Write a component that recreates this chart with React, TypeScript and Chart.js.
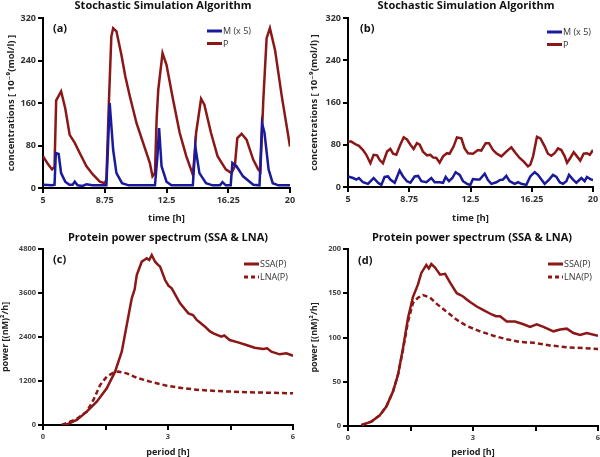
import React, { useEffect, useRef } from "react";
import { Chart, registerables } from "chart.js";
Chart.register(...registerables);

const FONT = "'Open Sans', 'DejaVu Sans', sans-serif";
const RED = "#8b1717";
const BLUE = "#1a1a9c";

// ---------- Panel (a): SSA time series ----------
const A_P_TIME = [5.0, 5.3, 5.55, 5.7, 5.8, 6.1, 6.35, 6.62, 6.93, 7.23, 7.64, 8.04, 8.45, 8.75, 8.85, 9.0, 9.15, 9.26, 9.46, 9.76, 10.0, 10.27, 10.68, 11.08, 11.49, 11.65, 11.8, 11.9, 12.0, 12.26, 12.5, 12.9, 13.3, 13.7, 14.1, 14.2, 14.3, 14.6, 14.8, 15.2, 15.6, 16.1, 16.45, 16.65, 16.8, 17.06, 17.36, 17.77, 18.07, 18.2, 18.38, 18.58, 18.78, 19.09, 19.5, 19.8, 20.0];
const A_P_VALUE = [60, 45, 35, 40, 165, 182, 150, 100, 85, 66, 41, 25, 12, 9, 16, 160, 285, 301, 295, 251, 210, 173, 122, 85, 47, 22, 28, 130, 185, 254, 232, 166, 104, 60, 25, 60, 104, 168, 157, 104, 60, 35, 28, 41, 94, 102, 91, 53, 35, 31, 166, 282, 301, 260, 173, 116, 78];
const A_M_TIME = [5.0, 5.55, 5.7, 5.78, 5.95, 6.1, 6.35, 6.6, 6.8, 6.93, 7.1, 7.4, 7.64, 8.0, 8.85, 8.95, 9.05, 9.26, 9.46, 9.8, 10.2, 11.8, 11.95, 12.05, 12.2, 12.5, 12.8, 14.1, 14.25, 14.5, 14.9, 15.3, 15.75, 15.9, 16.1, 16.4, 16.5, 16.75, 17.15, 17.77, 18.15, 18.3, 18.45, 18.7, 18.95, 19.3, 20.0];
const A_M_VALUE = [6, 5, 6, 66, 64, 28, 12, 6, 6, 12, 5, 4, 7, 5, 5, 80, 160, 72, 28, 9, 5, 5, 60, 113, 41, 12, 5, 5, 78, 28, 9, 5, 5, 11, 5, 5, 47, 41, 22, 6, 5, 122, 104, 35, 9, 5, 5];

// ---------- Panel (b): SSA time series ----------
const B_P_TIME = [5.0, 5.2, 5.51, 5.67, 5.92, 6.12, 6.37, 6.57, 6.78, 6.94, 7.14, 7.39, 7.59, 7.76, 7.96, 8.16, 8.41, 8.61, 8.82, 9.02, 9.22, 9.39, 9.59, 9.84, 10.04, 10.2, 10.41, 10.61, 10.82, 11.06, 11.22, 11.47, 11.67, 11.94, 12.14, 12.35, 12.65, 12.96, 13.16, 13.43, 13.63, 13.88, 14.08, 14.39, 14.69, 15.0, 15.27, 15.51, 15.76, 16.02, 16.16, 16.33, 16.57, 16.78, 17.04, 17.24, 17.45, 17.65, 17.86, 18.06, 18.27, 18.41, 18.61, 18.82, 19.02, 19.22, 19.43, 19.63, 19.8, 20.0];
const B_P_VALUE = [86, 86, 80, 78, 70, 61, 45, 61, 60, 51, 45, 67, 72, 63, 61, 77, 94, 90, 80, 72, 83, 80, 67, 60, 61, 56, 55, 46, 58, 64, 63, 77, 94, 92, 73, 64, 63, 70, 69, 83, 83, 70, 64, 58, 67, 75, 64, 55, 48, 39, 42, 58, 95, 92, 77, 63, 59, 64, 73, 70, 58, 46, 55, 66, 58, 50, 63, 64, 61, 70];
const B_M_TIME = [5.0, 5.31, 5.51, 5.67, 5.92, 6.22, 6.57, 6.84, 7.04, 7.24, 7.45, 7.59, 7.86, 8.16, 8.37, 8.61, 8.82, 9.08, 9.29, 9.49, 9.8, 10.1, 10.31, 10.61, 10.82, 10.98, 11.18, 11.39, 11.59, 11.84, 12.04, 12.29, 12.49, 12.65, 12.86, 13.06, 13.37, 13.57, 13.78, 14.08, 14.29, 14.49, 14.69, 14.9, 15.2, 15.41, 15.61, 15.92, 16.16, 16.43, 16.63, 16.84, 17.04, 17.31, 17.55, 17.76, 17.96, 18.16, 18.37, 18.53, 18.78, 18.98, 19.29, 19.49, 19.63, 19.84, 20.0];
const B_M_VALUE = [20, 17, 14, 17, 9, 6, 17, 8, 4, 19, 20, 14, 8, 31, 20, 11, 8, 20, 21, 11, 9, 17, 9, 9, 8, 19, 11, 17, 28, 23, 11, 6, 4, 15, 14, 14, 25, 13, 6, 9, 13, 14, 21, 11, 6, 9, 6, 4, 20, 28, 23, 14, 6, 14, 23, 19, 9, 6, 11, 23, 14, 8, 17, 11, 19, 15, 13];

// ---------- Panel (c): power spectrum ----------
const C_SSA_PERIOD = [0.45, 0.6, 0.81, 1.05, 1.29, 1.53, 1.73, 1.89, 2.01, 2.13, 2.2, 2.25, 2.37, 2.43, 2.49, 2.55, 2.61, 2.69, 2.75, 2.81, 2.93, 3.01, 3.09, 3.2, 3.29, 3.49, 3.6, 3.69, 3.89, 4.0, 4.09, 4.28, 4.35, 4.48, 4.68, 4.88, 5.08, 5.28, 5.38, 5.48, 5.68, 5.84, 6.0];
const C_SSA_POWER = [0, 30, 136, 364, 636, 1000, 1455, 2000, 2727, 3455, 3700, 4090, 4454, 4500, 4545, 4500, 4636, 4454, 4380, 4318, 3954, 3800, 3727, 3500, 3318, 3045, 3000, 2864, 2682, 2560, 2500, 2409, 2440, 2318, 2254, 2182, 2109, 2073, 2090, 2000, 1927, 1954, 1890];
const C_LNA_PERIOD = [0.45, 0.81, 1.05, 1.21, 1.37, 1.53, 1.69, 1.81, 2.01, 2.25, 2.57, 2.97, 3.37, 3.77, 4.17, 4.57, 4.97, 5.36, 6.0];
const C_LNA_POWER = [0, 164, 364, 682, 1090, 1318, 1427, 1455, 1409, 1290, 1182, 1073, 1000, 955, 927, 909, 891, 882, 864];

// ---------- Panel (d): power spectrum ----------
const D_SSA_PERIOD = [0.32, 0.56, 0.76, 0.92, 1.08, 1.2, 1.32, 1.44, 1.56, 1.68, 1.76, 1.88, 1.94, 2.0, 2.09, 2.15, 2.21, 2.33, 2.45, 2.61, 2.7, 2.77, 2.85, 2.93, 3.09, 3.25, 3.45, 3.55, 3.65, 3.81, 4.01, 4.21, 4.37, 4.53, 4.69, 4.93, 5.09, 5.25, 5.41, 5.57, 5.73, 6.0];
const D_SSA_POWER = [1, 5, 12, 22, 39, 58, 88, 122, 146, 160, 173, 182, 178, 183, 179, 175, 171, 172, 162, 150, 148, 146, 143, 140, 135, 131, 126, 124, 124, 118, 118, 115, 112, 115, 112, 107, 109, 110, 105, 103, 105, 102];
const D_LNA_PERIOD = [0.32, 0.56, 0.76, 0.92, 1.08, 1.2, 1.32, 1.44, 1.56, 1.68, 1.8, 1.97, 2.13, 2.37, 2.61, 2.85, 3.17, 3.49, 3.81, 4.13, 4.45, 4.85, 5.25, 5.66, 6.0];
const D_LNA_POWER = [1, 5, 12, 22, 39, 58, 86, 118, 139, 145, 148, 145, 138, 129, 120, 113, 107, 102, 98, 95, 94, 91, 89, 88, 87];

// ---------- Tick labels ----------
const TIME_TICKS = [5, 8.75, 12.5, 16.25, 20];
const PERIOD_TICKS = [0, 1.5, 3, 4.5, 6];
const PERIOD_LABELED = [0, 3, 6];

const TITLE_SSA = "Stochastic Simulation Algorithm";
const TITLE_PSD = "Protein power spectrum (SSA & LNA)";
const Y_CONC = "concentrations [ 10\u207B\u2079(mol/l) ]";
const Y_POWER = "power [(nM)\u00B2/h]";

const pts = (xs: number[], ys: number[]) => xs.map((x, i) => ({ x, y: ys[i] }));

type Spec = {
  left: number; top: number; width: number; height: number;
  chartTop: number; chartLeft: number; chartBottom: number; padRight: number;
  title: string; titleX: number; titleY: number;
  letter: string; letterX: number; letterY: number;
  legendX: number; legendY: number; legendGap: number;
  xMin: number; xMax: number; xTicks: number[]; xLabeled: number[];
  yMin: number; yMax: number; yStep: number;
  xTitle: string; yTitle: string; yTitlePad: number; xTitlePad: number;
  tickSize: number; tickColor: string; axisTitleSize: number;
  datasets: any[];
};

function makeConfig(s: Spec): any {
  const overlay = {
    id: "overlay",
    afterDraw(chart: any) {
      const ctx = chart.ctx;
      ctx.save();
      ctx.fillStyle = "#111";
      ctx.textAlign = "center";
      ctx.textBaseline = "middle";
      ctx.font = `bold 11px ${FONT}`;
      ctx.fillText(s.title, s.titleX, s.titleY);
      ctx.textAlign = "left";
      ctx.font = `bold 11px ${FONT}`;
      ctx.fillText(s.letter, s.letterX, s.letterY);
      chart.data.datasets.forEach((ds: any, i: number) => {
        const y = s.legendY + i * s.legendGap;
        ctx.beginPath();
        ctx.strokeStyle = ds.borderColor;
        ctx.lineWidth = 3;
        ctx.setLineDash(ds.borderDash ? [4, 3] : []);
        ctx.moveTo(s.legendX, y);
        ctx.lineTo(s.legendX + 15, y);
        ctx.stroke();
        ctx.setLineDash([]);
        ctx.fillStyle = "#333";
        ctx.font = `9px ${FONT}`;
        ctx.fillText(ds.label, s.legendX + 16, y + 0.5);
      });
      ctx.restore();
    },
  };
  return {
    type: "line",
    data: { datasets: s.datasets },
    plugins: [overlay],
    options: {
      animation: false,
      responsive: false,
      maintainAspectRatio: false,
      layout: { padding: { top: s.chartTop, right: s.padRight, left: 0, bottom: 0 } },
      plugins: { legend: { display: false }, title: { display: false }, tooltip: { enabled: false } },
      elements: { point: { radius: 0 }, line: { tension: 0 } },
      scales: {
        x: {
          type: "linear",
          min: s.xMin,
          max: s.xMax,
          afterBuildTicks: (sc: any) => { sc.ticks = s.xTicks.map((v) => ({ value: v })); },
          afterFit: (sc: any) => { sc.height = s.height - s.chartBottom; sc.paddingLeft = 0; sc.paddingRight = 0; },
          border: { display: true, color: "#000", width: 2 },
          grid: { display: true, drawOnChartArea: false, drawTicks: true, tickLength: 5, color: "#000", lineWidth: 2 },
          ticks: {
            padding: 2,
            maxRotation: 0,
            autoSkip: false,
            color: s.tickColor,
            font: { family: FONT, size: s.tickSize, weight: "bold" },
            callback: (v: number) => (s.xLabeled.includes(v) ? String(v) : ""),
          },
          title: {
            display: true,
            text: s.xTitle,
            color: "#222",
            font: { family: FONT, size: s.axisTitleSize, weight: "bold", lineHeight: 1 },
            padding: { top: 0, bottom: s.xTitlePad },
          },
        },
        y: {
          min: s.yMin,
          max: s.yMax,
          afterFit: (sc: any) => { sc.width = s.chartLeft; sc.paddingTop = 0; sc.paddingBottom = 0; },
          border: { display: true, color: "#000", width: 2 },
          grid: { display: true, drawOnChartArea: false, drawTicks: true, tickLength: 5, color: "#000", lineWidth: 2 },
          ticks: {
            stepSize: s.yStep,
            padding: 2,
            color: s.tickColor,
            font: { family: FONT, size: s.tickSize, weight: "bold" },
            callback: (v: number) => String(v),
          },
          title: {
            display: true,
            text: s.yTitle,
            color: "#222",
            font: { family: FONT, size: s.axisTitleSize, weight: "bold", lineHeight: 1 },
            padding: { top: s.yTitlePad, bottom: 0 },
          },
        },
      },
    },
  };
}

function Panel({ spec }: { spec: Spec }) {
  const ref = useRef<HTMLCanvasElement | null>(null);
  useEffect(() => {
    if (!ref.current) return;
    const chart = new Chart(ref.current, makeConfig(spec));
    return () => chart.destroy();
  }, []);
  return (
    <div style={{ position: "absolute", left: spec.left, top: spec.top, width: spec.width, height: spec.height }}>
      <canvas ref={ref} width={spec.width} height={spec.height} style={{ width: spec.width, height: spec.height }} />
    </div>
  );
}

const lineDs = (label: string, color: string, data: any, dashed = false) => ({
  label,
  data,
  borderColor: color,
  backgroundColor: color,
  borderWidth: 2.5,
  borderDash: dashed ? [5, 3] : undefined,
  fill: false,
  pointRadius: 0,
});

const SPEC_A: Spec = {
  left: 0, top: 0, width: 300, height: 228,
  chartTop: 18, chartLeft: 43, chartBottom: 188, padRight: 10,
  title: TITLE_SSA, titleX: 163, titleY: 6,
  letter: "(a)", letterX: 53, letterY: 29,
  legendX: 207, legendY: 31, legendGap: 12.5,
  xMin: 5, xMax: 20, xTicks: TIME_TICKS, xLabeled: TIME_TICKS,
  yMin: 0, yMax: 320, yStep: 80,
  xTitle: "time [h]", yTitle: Y_CONC, yTitlePad: 7, xTitlePad: 5,
  tickSize: 9, tickColor: "#333", axisTitleSize: 9.5,
  datasets: [lineDs("M (x 5)", BLUE, pts(A_M_TIME, A_M_VALUE)), lineDs("P", RED, pts(A_P_TIME, A_P_VALUE))],
};

const SPEC_B: Spec = {
  left: 300, top: 0, width: 300, height: 228,
  chartTop: 18, chartLeft: 48, chartBottom: 187, padRight: 7,
  title: TITLE_SSA, titleX: 166, titleY: 6,
  letter: "(b)", letterX: 60, letterY: 29,
  legendX: 247, legendY: 32, legendGap: 12.5,
  xMin: 5, xMax: 20, xTicks: TIME_TICKS, xLabeled: TIME_TICKS,
  yMin: 0, yMax: 320, yStep: 80,
  xTitle: "time [h]", yTitle: Y_CONC, yTitlePad: 10, xTitlePad: 5,
  tickSize: 9, tickColor: "#333", axisTitleSize: 9.5,
  datasets: [lineDs("M (x 5)", BLUE, pts(B_M_TIME, B_M_VALUE)), lineDs("P", RED, pts(B_P_TIME, B_P_VALUE))],
};

const SPEC_C: Spec = {
  left: 0, top: 228, width: 300, height: 229,
  chartTop: 21, chartLeft: 43, chartBottom: 197, padRight: 7,
  title: TITLE_PSD, titleX: 168, titleY: 10,
  letter: "(c)", letterX: 53, letterY: 32,
  legendX: 244, legendY: 36, legendGap: 13,
  xMin: 0, xMax: 6, xTicks: PERIOD_TICKS, xLabeled: PERIOD_LABELED,
  yMin: 0, yMax: 4800, yStep: 1200,
  xTitle: "period [h]", yTitle: Y_POWER, yTitlePad: 1, xTitlePad: 0,
  tickSize: 7.5, tickColor: "#444", axisTitleSize: 9,
  datasets: [lineDs("SSA(P)", RED, pts(C_SSA_PERIOD, C_SSA_POWER)), lineDs("LNA(P)", RED, pts(C_LNA_PERIOD, C_LNA_POWER), true)],
};

const SPEC_D: Spec = {
  left: 300, top: 228, width: 300, height: 229,
  chartTop: 21, chartLeft: 48, chartBottom: 198, padRight: 2,
  title: TITLE_PSD, titleX: 172, titleY: 10,
  letter: "(d)", letterX: 58, letterY: 33,
  legendX: 248, legendY: 36, legendGap: 13,
  xMin: 0, xMax: 6, xTicks: PERIOD_TICKS, xLabeled: PERIOD_LABELED,
  yMin: 0, yMax: 200, yStep: 50,
  xTitle: "period [h]", yTitle: Y_POWER, yTitlePad: 10, xTitlePad: 0,
  tickSize: 7.5, tickColor: "#444", axisTitleSize: 9,
  datasets: [lineDs("SSA(P)", RED, pts(D_SSA_PERIOD, D_SSA_POWER)), lineDs("LNA(P)", RED, pts(D_LNA_PERIOD, D_LNA_POWER), true)],
};

export default function App() {
  return (
    <div style={{ position: "absolute", left: 0, top: 0, width: 600, height: 457, background: "#fff", overflow: "hidden" }}>
      <Panel spec={SPEC_A} />
      <Panel spec={SPEC_B} />
      <Panel spec={SPEC_C} />
      <Panel spec={SPEC_D} />
    </div>
  );
}
